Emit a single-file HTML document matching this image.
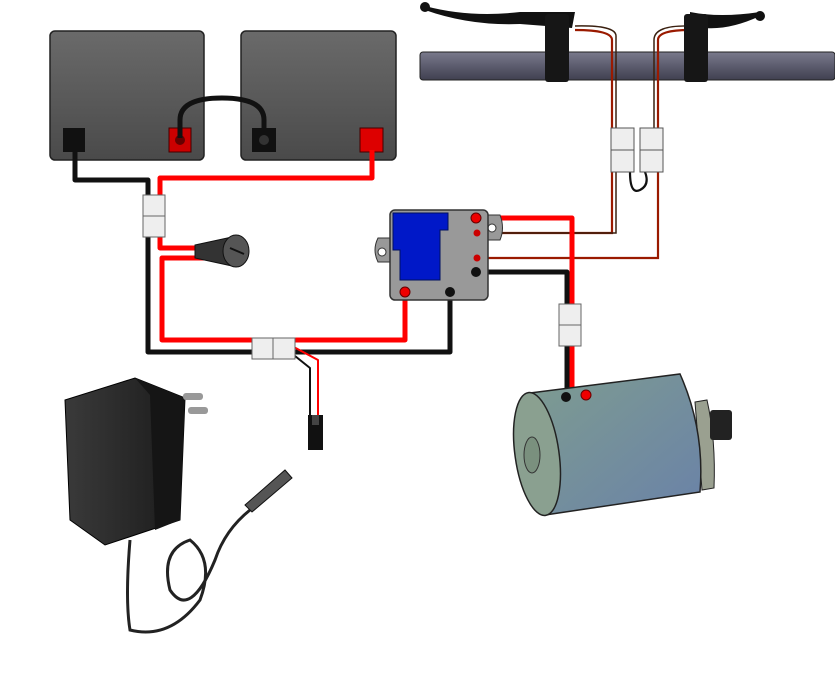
<!DOCTYPE html>
<html><head><meta charset="utf-8"><style>html,body{margin:0;padding:0;background:#fff}svg{display:block}</style></head>
<body>
<svg width="835" height="676" viewBox="0 0 835 676" xmlns="http://www.w3.org/2000/svg">
<defs>
<linearGradient id="bat" x1="0" y1="0" x2="0" y2="1"><stop offset="0" stop-color="#6a6a6a"/><stop offset="1" stop-color="#4a4a4a"/></linearGradient>
<linearGradient id="bar" x1="0" y1="0" x2="0" y2="1"><stop offset="0" stop-color="#7a7a8c"/><stop offset="0.5" stop-color="#5c5c6e"/><stop offset="1" stop-color="#404050"/></linearGradient>
<linearGradient id="mot" x1="0" y1="0" x2="1" y2="1"><stop offset="0" stop-color="#7e9c90"/><stop offset="1" stop-color="#6a82a8"/></linearGradient>
<linearGradient id="ch" x1="0" y1="0" x2="1" y2="0"><stop offset="0" stop-color="#3a3a3a"/><stop offset="1" stop-color="#1a1a1a"/></linearGradient>
</defs>
<!-- handlebar -->
<rect x="420" y="52" width="415" height="28" rx="3" fill="url(#bar)" stroke="#222"/>
<!-- brake wires -->
<g fill="none" stroke-width="2.2">
<path d="M478,233 H612 V40 Q612,30 575,30" stroke="#9a1a00"/>
<path d="M478,233 H616 V36 Q616,25 575,26" stroke="#3a2010" stroke-width="1.5"/>
<path d="M478,258 H658 V40 Q658,30 690,30" stroke="#9a1a00"/>
<path d="M654,150 V40 Q654,25 690,26" stroke="#3a2010" stroke-width="1.5"/>
<path d="M630,172 Q630,195 640,190 Q650,185 645,172" stroke="#111"/>
</g>
<rect x="611" y="128" width="23" height="44" fill="#eee" stroke="#555"/><line x1="611" y1="150" x2="634" y2="150" stroke="#555"/>
<rect x="640" y="128" width="23" height="44" fill="#eee" stroke="#555"/><line x1="640" y1="150" x2="663" y2="150" stroke="#555"/>
<!-- levers -->
<path d="M425,6 Q470,18 520,12 L575,12 L572,28 L520,24 Q470,26 425,10 Z" fill="#111"/>
<circle cx="425" cy="7" r="5" fill="#111"/>
<rect x="545" y="14" width="24" height="68" rx="3" fill="#161616"/>
<path d="M760,16 Q730,30 705,28 L690,25 L690,12 Q720,18 760,12 Z" fill="#111"/>
<circle cx="760" cy="16" r="5" fill="#111"/>
<rect x="684" y="14" width="24" height="68" rx="3" fill="#161616"/>
<!-- batteries -->
<rect x="50" y="31" width="154" height="129" rx="5" fill="url(#bat)" stroke="#222" stroke-width="1.5"/>
<rect x="241" y="31" width="155" height="129" rx="5" fill="url(#bat)" stroke="#222" stroke-width="1.5"/>
<rect x="63" y="128" width="22" height="24" fill="#111"/><rect x="169" y="128" width="22" height="24" fill="#c00" stroke="#400"/><circle cx="180" cy="140" r="5" fill="#600"/>
<rect x="252" y="128" width="24" height="24" fill="#111"/><rect x="360" y="128" width="23" height="24" fill="#d00" stroke="#400"/>
<path d="M180,138 V120 Q180,98 222,98 Q264,98 264,120 V138" fill="none" stroke="#111" stroke-width="5"/>
<circle cx="264" cy="140" r="5" fill="#333"/>
<!-- main wires -->
<g fill="none" stroke-linejoin="round">
<path d="M75,150 V180 H148 V352 H450 V290" stroke="#111" stroke-width="5"/>
<path d="M372,150 V178 H160 V248 H210" stroke="#f00" stroke-width="5"/>
<path d="M210,258 H162 V340 H405 V290" stroke="#f00" stroke-width="5"/>
<path d="M290,352 L310,368 V415" stroke="#111" stroke-width="2"/>
<path d="M290,345 L318,360 V415" stroke="#f00" stroke-width="2"/>
<path d="M475,218 H572 V390 L585,395" stroke="#f00" stroke-width="5"/>
<path d="M475,272 H567 V395" stroke="#111" stroke-width="5"/>
</g>
<rect x="143" y="195" width="22" height="42" fill="#eee" stroke="#666"/><line x1="143" y1="216" x2="165" y2="216" stroke="#666"/>
<rect x="252" y="338" width="43" height="21" fill="#eee" stroke="#666"/><line x1="273" y1="338" x2="273" y2="359" stroke="#666"/>
<rect x="559" y="304" width="22" height="42" fill="#eee" stroke="#666"/><line x1="559" y1="325" x2="581" y2="325" stroke="#666"/>
<rect x="308" y="415" width="15" height="35" fill="#111"/><rect x="312" y="415" width="7" height="10" fill="#444"/>
<!-- fuse holder -->
<path d="M195,245 L232,237 L232,266 L195,258 Z" fill="#333" stroke="#111"/>
<ellipse cx="236" cy="251" rx="13" ry="16" fill="#555" stroke="#111"/>
<line x1="230" y1="248" x2="244" y2="254" stroke="#111" stroke-width="2"/>
<!-- controller -->
<path d="M390,238 H378 Q372,250 378,262 H390 Z" fill="#999" stroke="#333"/>
<path d="M488,215 H500 Q505,228 500,240 H488 Z" fill="#999" stroke="#333"/>
<circle cx="382" cy="252" r="4" fill="#fff" stroke="#333"/>
<circle cx="492" cy="228" r="4" fill="#fff" stroke="#333"/>
<rect x="390" y="210" width="98" height="90" rx="5" fill="#999" stroke="#333" stroke-width="1.5"/>
<path d="M393,213 H448 V230 H440 V280 H400 V250 H393 Z" fill="#0018c8" stroke="#001060"/>
<circle cx="476" cy="218" r="5" fill="#e00" stroke="#600"/>
<circle cx="477" cy="233" r="3.5" fill="#c00"/>
<circle cx="477" cy="258" r="3.5" fill="#c00"/>
<circle cx="476" cy="272" r="5" fill="#111"/>
<circle cx="405" cy="292" r="5" fill="#e00" stroke="#600"/>
<circle cx="450" cy="292" r="5" fill="#111"/>
<!-- motor -->
<path d="M695,402 L707,400 Q716,440 714,488 L702,490 Z" fill="#9aa090" stroke="#222"/>
<rect x="710" y="410" width="22" height="30" rx="3" fill="#222"/>
<path d="M530,393 L680,374 Q705,430 700,492 L545,515 Z" fill="url(#mot)" stroke="#222" stroke-width="1.5"/>
<ellipse cx="537" cy="454" rx="22" ry="62" transform="rotate(-8 537 454)" fill="#8aa090" stroke="#222" stroke-width="1.5"/>
<ellipse cx="532" cy="455" rx="8" ry="18" fill="#7a907e" stroke="#333"/>
<circle cx="566" cy="397" r="5" fill="#111"/><circle cx="586" cy="395" r="5" fill="#e00" stroke="#600"/>
<!-- charger -->
<path d="M65,400 L135,378 L185,398 L180,520 L105,545 L70,520 Z" fill="url(#ch)" stroke="#000"/>
<path d="M135,378 L185,398 L180,520 L155,530 L150,395 Z" fill="#151515"/>
<rect x="183" y="393" width="20" height="7" rx="3" fill="#999"/><rect x="188" y="407" width="20" height="7" rx="3" fill="#999"/>
<path d="M130,540 Q125,600 130,630 Q170,640 200,600 Q215,560 190,540 Q160,550 170,590 Q190,620 215,560 Q225,530 250,510" fill="none" stroke="#222" stroke-width="3"/>
<path d="M245,505 L285,470 L292,478 L252,512 Z" fill="#555" stroke="#111"/>
</svg>
</body></html>
